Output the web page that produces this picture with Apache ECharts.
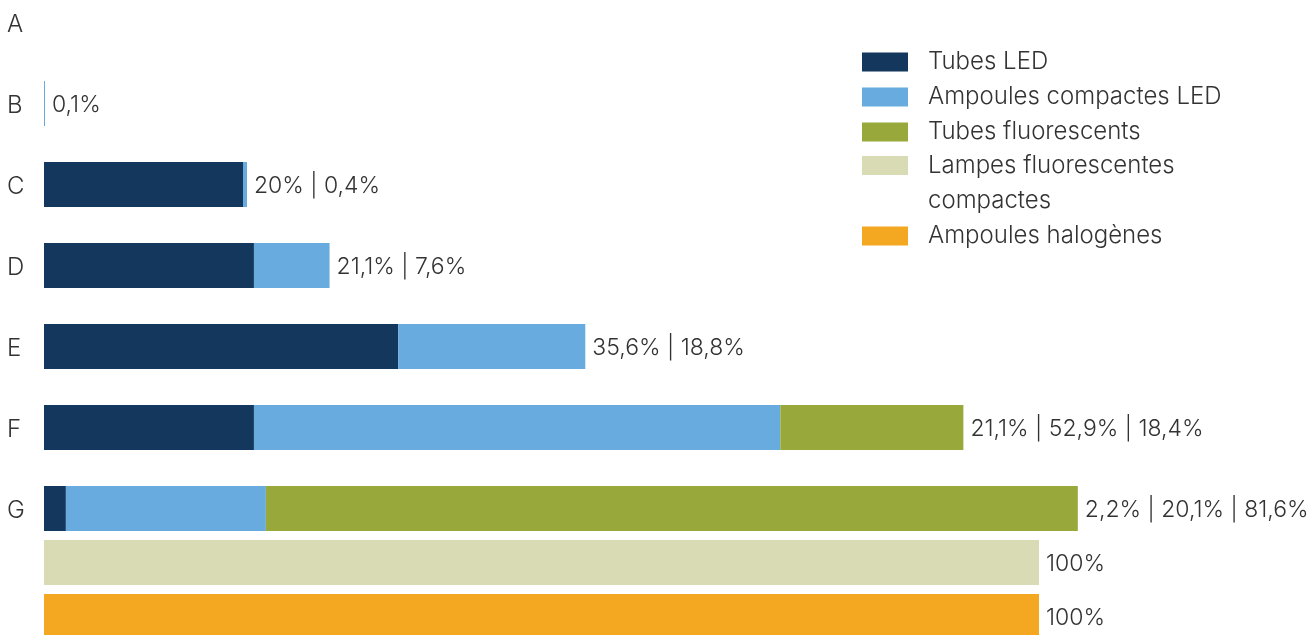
<!DOCTYPE html>
<html>
<head>
<meta charset="utf-8">
<script src="https://cdn.jsdelivr.net/npm/echarts@6/dist/echarts.min.js"></script>
<style>
  html, body { margin: 0; padding: 0; background: #fff; }
  #chart { width: 1312px; height: 635px; }
</style>
</head>
<body>
<div id="chart"></div>
<script>
// rows A..G
const categories = ['A', 'B', 'C', 'D', 'E', 'F', 'G'];
const tubesLed = [null, null, 20, 21.1, 35.6, 21.1, 2.2];
const ampoulesLed = [null, 0.1, 0.4, 7.6, 18.8, 52.9, 20.1];
const tubesFluo = [null, null, null, null, null, 18.4, 81.6];
// the two full bars under G
const lowerRows = ['', ''];
const lampesFluo = [100, null];
const halogenes = [null, 100];

const seriesNames = ['Tubes LED', 'Ampoules compactes LED', 'Tubes fluorescents', 'Lampes fluorescentes compactes', 'Ampoules halogènes'];
const colors = ['#14375d', '#67abdf', '#99a83a', '#d9dbb5', '#f4a822'];

const FONT = 'Inter';
const TXT = '#333333';
const FS = 24;

const fmt = v => String(v).replace('.', ',') + '%';

const rowLabels = categories.map((c, i) =>
    [tubesLed[i], ampoulesLed[i], tubesFluo[i]].filter(v => v != null).map(fmt).join(' | ')
);

const chart = echarts.init(document.getElementById('chart'));

const textBase = {
    fontFamily: FONT,
    fontWeight: 300,
    fontSize: FS,
    color: TXT
};

// nudges the text a couple of pixels below the bar centre, like the original
const lowered = { verticalAlign: 'top', lineHeight: 4 };

const labelStyle = Object.assign({
    show: true,
    position: 'right',
    distance: 7
}, textBase, lowered, { fontSize: 23 });

const legendCommon = {
    orient: 'vertical',
    left: 862,
    padding: 0,
    itemWidth: 46,
    itemHeight: 19,
    icon: 'rect',
    textStyle: Object.assign({ padding: [0, 0, 0, 15] }, textBase)
};

const option = {
    animation: false,
    color: colors,
    legend: [
        Object.assign({}, legendCommon, {
            top: 50,
            itemGap: 11,
            data: seriesNames.slice(0, 3)
        }),
        // second block: two-line item keeps its swatch on the first line
        Object.assign({}, legendCommon, {
            top: 113,
            itemGap: 6,
            data: [
                {
                    name: seriesNames[3],
                    textStyle: {
                        lineHeight: 35,
                        padding: [35, 0, 0, 15],
                        rich: { l: { lineHeight: 35 } }
                    }
                },
                seriesNames[4]
            ],
            formatter: function (name) {
                if (name === seriesNames[3]) return '{l|Lampes fluorescentes}\n{l|compactes}';
                return name;
            }
        })
    ],
    grid: [
        { left: 44, right: 74, top: -18, height: 567, outerBoundsMode: 'none' },
        { left: 44, right: 74, top: 535.5, height: 108, outerBoundsMode: 'none' }
    ],
    xAxis: [
        { gridIndex: 0, type: 'value', min: 0, max: 120, show: false },
        { gridIndex: 1, type: 'value', min: 0, max: 120, show: false }
    ],
    yAxis: [
        {
            gridIndex: 0,
            type: 'category',
            inverse: true,
            data: categories,
            axisLine: { show: false },
            axisTick: { show: false },
            axisLabel: Object.assign({ align: 'left', margin: 37 }, textBase, lowered)
        },
        {
            gridIndex: 1,
            type: 'category',
            inverse: true,
            data: lowerRows,
            axisLine: { show: false },
            axisTick: { show: false },
            axisLabel: { show: false }
        }
    ],
    series: [
        {
            name: seriesNames[0], type: 'bar', stack: 'top', barWidth: 45,
            xAxisIndex: 0, yAxisIndex: 0, data: tubesLed
        },
        {
            name: seriesNames[1], type: 'bar', stack: 'top', barWidth: 45,
            xAxisIndex: 0, yAxisIndex: 0, data: ampoulesLed
        },
        {
            name: seriesNames[2], type: 'bar', stack: 'top', barWidth: 45,
            xAxisIndex: 0, yAxisIndex: 0, data: tubesFluo
        },
        // invisible end piece carrying the row labels
        {
            name: 'labels', type: 'bar', stack: 'top', barWidth: 45,
            xAxisIndex: 0, yAxisIndex: 0,
            data: categories.map(() => 0),
            itemStyle: { color: 'transparent' },
            label: Object.assign({}, labelStyle, {
                formatter: p => rowLabels[p.dataIndex]
            })
        },
        {
            name: seriesNames[3], type: 'bar', stack: 'low', barWidth: 45,
            xAxisIndex: 1, yAxisIndex: 1, data: lampesFluo,
            label: Object.assign({}, labelStyle, { formatter: p => fmt(p.value) })
        },
        {
            name: seriesNames[4], type: 'bar', stack: 'low', barWidth: 45,
            xAxisIndex: 1, yAxisIndex: 1, data: halogenes,
            label: Object.assign({}, labelStyle, { formatter: p => fmt(p.value) })
        }
    ]
};

chart.setOption(option);

window.addEventListener('resize', function () {
    chart.resize();
});
</script>
</body>
</html>
